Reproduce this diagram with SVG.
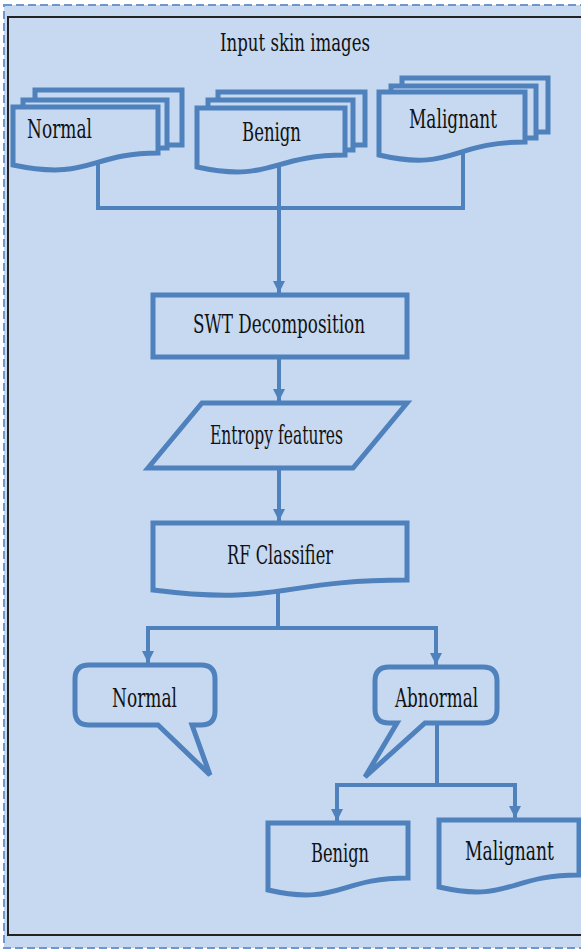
<svg xmlns="http://www.w3.org/2000/svg" width="581" height="950" viewBox="0 0 581 950">
<style>
.shape{fill:#c6d9f1;stroke:#4f81bd;stroke-width:5;stroke-linejoin:miter}
.back{fill:#c6d9f1;stroke:#4f81bd;stroke-width:5}
.conn{fill:none;stroke:#4f81bd;stroke-width:4}
.t{font-family:'DejaVu Serif','Liberation Serif',serif;font-size:26px;fill:#111}
</style>
<defs>
<marker id="arr" markerUnits="userSpaceOnUse" markerWidth="12" markerHeight="14" refX="12" refY="6" orient="auto">
<path d="M0,0 L12,6 L0,12 Z" fill="#4f81bd"/>
</marker>
</defs>
<rect x="0" y="0" width="581" height="950" fill="#ffffff"/>
<rect x="4" y="5" width="600" height="943" fill="#c6d9f1" stroke="#7097cc" stroke-width="2" stroke-dasharray="8,4"/>
<rect x="8" y="17" width="600" height="918" fill="#c6d9f1" stroke="#222" stroke-width="2"/>
<text class="t" x="220" y="51" style="font-size:24px" textLength="150" lengthAdjust="spacingAndGlyphs">Input skin images</text>

<g id="connectors">
<path class="conn" d="M98,163 V208 H463 V150"/>
<path class="conn" d="M279,166 V208"/>
<path class="conn" d="M279,208 V293" marker-end="url(#arr)"/>
<path class="conn" d="M279,357 V401" marker-end="url(#arr)"/>
<path class="conn" d="M279,468 V521" marker-end="url(#arr)"/>
<path class="conn" d="M278,592 V628"/>
<path class="conn" d="M148,628 H436"/>
<path class="conn" d="M148,626 V663" marker-end="url(#arr)"/>
<path class="conn" d="M436,626 V665" marker-end="url(#arr)"/>
<path class="conn" d="M437,723 V785"/>
<path class="conn" d="M337,785 H515"/>
<path class="conn" d="M337,783 V821" marker-end="url(#arr)"/>
<path class="conn" d="M515,783 V818" marker-end="url(#arr)"/>
</g>

<g id="input-normal">
<path class="back" d="M35,100 V90 H182 V145 H167"/>
<path class="back" d="M23,107 V100 H167 V148 H158"/>
<path class="shape" d="M13,107 H158 V153 C90,153 90,181 13,165 Z"/>
<text class="t" x="27" y="138" textLength="65" lengthAdjust="spacingAndGlyphs">Normal</text>
</g>

<g id="input-benign">
<path class="back" d="M218,100 V92 H365 V145 H353"/>
<path class="back" d="M208,108 V100 H353 V150 H345"/>
<path class="shape" d="M197,108 H345 V155 C271,155 271,183 197,167 Z"/>
<text class="t" x="242" y="141" textLength="59" lengthAdjust="spacingAndGlyphs">Benign</text>
</g>

<g id="input-malignant">
<path class="back" d="M402,86 V78 H548 V132 H536"/>
<path class="back" d="M391,92 V86 H536 V138 H525"/>
<path class="shape" d="M379,92 H525 V142 C452,142 452,172 379,155 Z"/>
<text class="t" x="409" y="128" textLength="88" lengthAdjust="spacingAndGlyphs">Malignant</text>
</g>

<g id="swt">
<rect class="shape" x="153" y="295" width="254" height="62"/>
<text class="t" x="193" y="333" textLength="172" lengthAdjust="spacingAndGlyphs">SWT Decomposition</text>
</g>

<g id="entropy">
<path class="shape" d="M202,403 H407 L353,468 H148 Z"/>
<text class="t" x="210" y="444" textLength="133" lengthAdjust="spacingAndGlyphs">Entropy features</text>
</g>

<g id="rf">
<path class="shape" d="M153,523 H407 V580 C280,580 280,606 153,590 Z"/>
<text class="t" x="227" y="564" textLength="106" lengthAdjust="spacingAndGlyphs">RF Classifier</text>
</g>

<g id="out-normal">
<path class="shape" d="M89,665 H201 Q215,665 215,679 V711 Q215,725 201,725 H192 L210,775 L158,725 H89 Q75,725 75,711 V679 Q75,665 89,665 Z"/>
<text class="t" x="112" y="707" textLength="65" lengthAdjust="spacingAndGlyphs">Normal</text>
</g>

<g id="out-abnormal">
<path class="shape" d="M389,667 H483 Q497,667 497,681 V709 Q497,723 483,723 H425 L365,777 L397,723 H389 Q375,723 375,709 V681 Q375,667 389,667 Z"/>
<text class="t" x="395" y="707" textLength="83" lengthAdjust="spacingAndGlyphs">Abnormal</text>
</g>

<g id="out-benign">
<path class="shape" d="M268,823 H408 V878 C338,878 338,906 268,890 Z"/>
<text class="t" x="311" y="862" textLength="58" lengthAdjust="spacingAndGlyphs">Benign</text>
</g>

<g id="out-malignant">
<path class="shape" d="M439,820 H579 V875 C509,875 509,903 439,887 Z"/>
<text class="t" transform="translate(465,860) scale(0.66,1)" x="0" y="0">Malignant</text>
</g>
</svg>
